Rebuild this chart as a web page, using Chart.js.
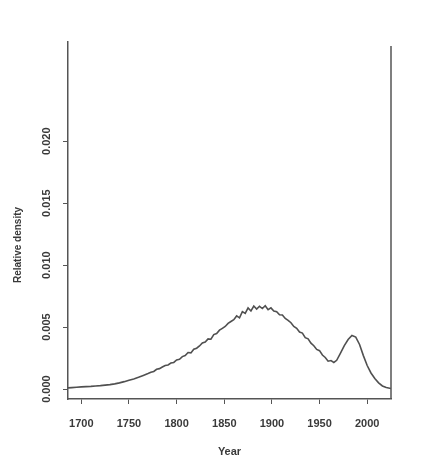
<!DOCTYPE html>
<html>
<head>
<meta charset="utf-8">
<script src="https://cdn.jsdelivr.net/npm/chart.js@4.4.1/dist/chart.umd.min.js"></script>
<style>
  html, body { margin: 0; padding: 0; background: #fff; }
  #wrap { width: 446px; height: 459px; }
</style>
</head>
<body>
<div id="wrap"><canvas id="myChart" width="446" height="459"></canvas></div>
<script>
// density of years (the middle part is noisy)
const years = [
  1686, 1690, 1695, 1700, 1705, 1710, 1715, 1720, 1725, 1730, 1735, 1740,
  1745, 1750, 1755, 1760, 1765,
  1770, 1773, 1776, 1779, 1782, 1785, 1788, 1791, 1794, 1797, 1800, 1803,
  1806, 1809, 1812, 1815, 1818, 1821, 1824, 1827, 1830, 1833, 1836, 1839,
  1842, 1845, 1848, 1851, 1854, 1857, 1860, 1863, 1866, 1869, 1872, 1875,
  1878, 1881, 1884, 1887, 1890, 1893, 1896, 1899, 1902, 1905, 1908, 1911,
  1914, 1917, 1920, 1923, 1926, 1929, 1932, 1935, 1938, 1941, 1944, 1947,
  1950, 1953, 1956, 1959, 1962, 1965, 1968,
  1972, 1976, 1980, 1984, 1988, 1992, 1996, 2000, 2004, 2008, 2012, 2016,
  2020, 2025
];
const density = [
  0.00010, 0.00012, 0.00015, 0.00018, 0.00020, 0.00022, 0.00025, 0.00028, 0.00032, 0.00036, 0.00042, 0.00050,
  0.00060, 0.00072, 0.00082, 0.00095, 0.00110,
  0.00125, 0.00135, 0.00142, 0.00160, 0.00165, 0.00178, 0.00190, 0.00195, 0.00210, 0.00215, 0.00235, 0.00240,
  0.00262, 0.00270, 0.00295, 0.00292, 0.00322, 0.00330, 0.00348, 0.00372, 0.00380, 0.00405, 0.00402, 0.00440,
  0.00448, 0.00475, 0.00490, 0.00505, 0.00530, 0.00545, 0.00560, 0.00590, 0.00575, 0.00625, 0.00610, 0.00655,
  0.00630, 0.00670, 0.00645, 0.00668, 0.00650, 0.00672, 0.00640, 0.00655, 0.00630, 0.00625, 0.00600, 0.00598,
  0.00570, 0.00555, 0.00535, 0.00505, 0.00490, 0.00460, 0.00452, 0.00415, 0.00405, 0.00370, 0.00350, 0.00320,
  0.00310, 0.00275, 0.00255, 0.00225, 0.00230, 0.00215, 0.00232,
  0.00290, 0.00350, 0.00400, 0.00432, 0.00420, 0.00360, 0.00270, 0.00190, 0.00130, 0.00085, 0.00050, 0.00025,
  0.00012, 0.00005
];
const xTicks = [1700, 1750, 1800, 1850, 1900, 1950, 2000];
const yTicks = [0.000, 0.005, 0.010, 0.015, 0.020];
const xLabel = "Year";
const yLabel = "Relative density";

const ink = "#3a3a3a";
const fontFamily = "'Liberation Sans', Arial, sans-serif";

// y tick labels (rotated), axis titles and the right-hand frame line
const extras = {
  id: "extras",
  afterDraw(chart) {
    const c = chart.ctx;
    const area = chart.chartArea;
    const ys = chart.scales.y;
    c.save();
    c.strokeStyle = "#555";
    c.lineWidth = 1.5;
    c.beginPath();
    c.moveTo(area.right, area.top + 4);
    c.lineTo(area.right, area.bottom);
    c.stroke();

    c.fillStyle = ink;
    c.font = "bold 11px " + fontFamily;
    c.textAlign = "center";
    c.textBaseline = "middle";
    yTicks.forEach(function (v) {
      c.save();
      c.translate(47, ys.getPixelForValue(v));
      c.rotate(-Math.PI / 2);
      c.fillText(v.toFixed(3), 0, 0);
      c.restore();
    });

    c.font = "bold 10px " + fontFamily;
    c.save();
    c.translate(18, 245);
    c.rotate(-Math.PI / 2);
    c.fillText(yLabel, 0, 0);
    c.restore();

    c.font = "bold 11px " + fontFamily;
    c.fillText(xLabel, (area.left + area.right) / 2, 452);
    c.restore();
  }
};

const ctx = document.getElementById("myChart");
new Chart(ctx, {
  type: "line",
  data: {
    datasets: [{
      data: years.map(function (y, i) { return { x: y, y: density[i] }; }),
      borderColor: "#505050",
      borderWidth: 1.6,
      pointRadius: 0,
      tension: 0,
      fill: false
    }]
  },
  options: {
    responsive: false,
    animation: false,
    layout: { padding: { top: 42, right: 55, left: 0, bottom: 0 } },
    plugins: { legend: { display: false }, tooltip: { enabled: false } },
    scales: {
      x: {
        type: "linear",
        min: 1686,
        max: 2025,
        afterBuildTicks: function (s) { s.ticks = xTicks.map(function (v) { return { value: v }; }); },
        afterFit: function (s) { s.height = 60; },
        grid: { drawOnChartArea: false, tickLength: 5, color: "#555", lineWidth: 1 },
        border: { color: "#555", width: 1.5 },
        ticks: {
          color: ink,
          font: { family: fontFamily, size: 11, weight: "bold" },
          padding: 13,
          maxRotation: 0,
          callback: function (v) { return String(v); }
        }
      },
      y: {
        type: "linear",
        min: -0.0008,
        max: 0.028,
        afterBuildTicks: function (s) { s.ticks = yTicks.map(function (v) { return { value: v }; }); },
        afterFit: function (s) { s.width = 68; },
        grid: { drawOnChartArea: false, tickLength: 5, color: "#555", lineWidth: 1 },
        border: { color: "#555", width: 1.5 },
        ticks: { color: "rgba(0,0,0,0)" }
      }
    }
  },
  plugins: [extras]
});
</script>
</body>
</html>
